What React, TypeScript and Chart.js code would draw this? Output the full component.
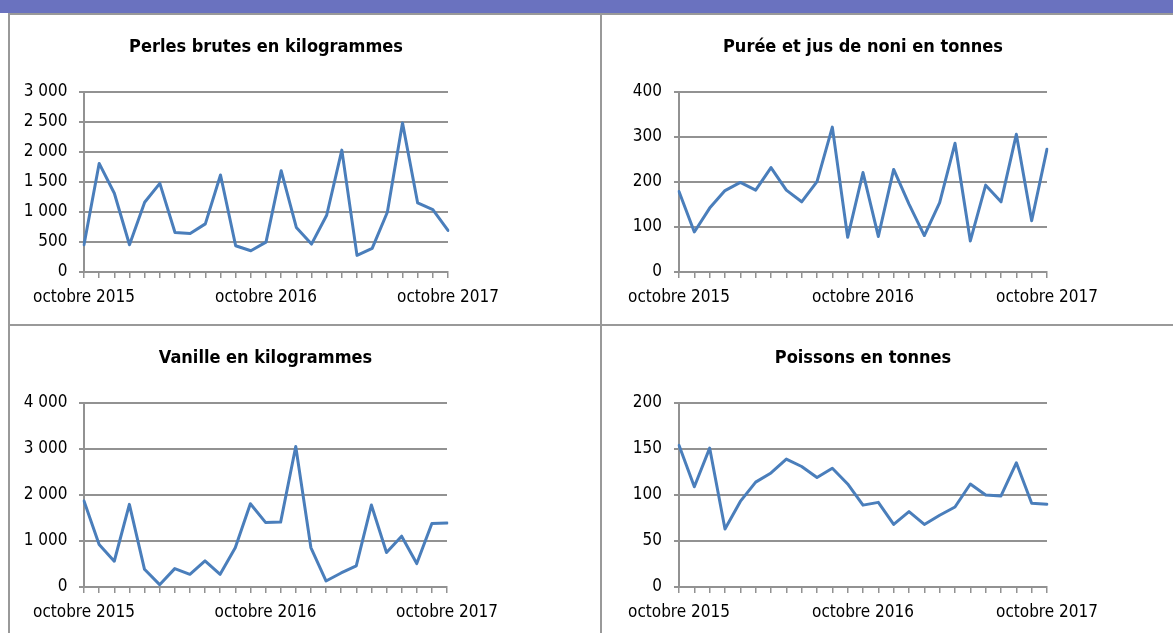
import React, { useEffect, useRef } from 'react';
import { Chart, registerables } from 'chart.js';

Chart.register(...registerables);

const months = [
  'octobre 2015', 'novembre 2015', 'décembre 2015', 'janvier 2016', 'février 2016', 'mars 2016',
  'avril 2016', 'mai 2016', 'juin 2016', 'juillet 2016', 'août 2016', 'septembre 2016',
  'octobre 2016', 'novembre 2016', 'décembre 2016', 'janvier 2017', 'février 2017', 'mars 2017',
  'avril 2017', 'mai 2017', 'juin 2017', 'juillet 2017', 'août 2017', 'septembre 2017', 'octobre 2017',
];

const perles = [454, 1810, 1312, 454, 1162, 1478, 659, 642, 802, 1616, 437, 354, 498, 1688, 742, 465, 946, 2031, 277, 393, 996, 2485, 1151, 1040, 692];
const noni = [179, 89, 142, 181, 199, 182, 232, 182, 156, 201, 322, 77, 221, 79, 228, 151, 81, 154, 286, 69, 193, 156, 306, 114, 273];
const vanille = [1869, 924, 560, 1796, 385, 51, 400, 276, 567, 276, 851, 1811, 1404, 1411, 3055, 858, 131, 305, 458, 1782, 749, 1105, 509, 1382, 1389];
const poissons = [154, 109, 151, 63, 93, 114, 124, 139, 131, 119, 129, 112, 89, 92, 68, 82, 68, 78, 87, 112, 100, 99, 135, 91, 90];

const titles = [
  'Perles brutes en kilogrammes',
  'Purée et jus de noni en tonnes',
  'Vanille en kilogrammes',
  'Poissons en tonnes',
];
const yMax = [3000, 400, 4000, 200];
const yStep = [500, 100, 1000, 50];

const FONT = "'DejaVu Sans Condensed', 'DejaVu Sans', sans-serif";
const LINE = '#4A7EBB';
const GRID = '#929292';
const AXIS_W = 74;
const X_H = 45;

const fmt = (v: number) => String(v).replace(/\B(?=(\d{3})+(?!\d))/g, ' ');

type PanelProps = {
  title: string;
  values: number[];
  max: number;
  step: number;
  plotLeft: number;
  plotRight: number;
  plotTop: number;
  plotBottom: number;
  titleY: number;
  yPad: number;
  xPad: number;
};

function Panel(p: PanelProps) {
  const ref = useRef<HTMLCanvasElement>(null);
  const canvasLeft = p.plotLeft - AXIS_W;
  const width = p.plotRight - p.plotLeft + 2 * AXIS_W;
  const canvasTop = p.titleY - 32;
  const topRel = p.plotTop - canvasTop;
  const height = p.plotBottom - canvasTop + X_H;
  const titleSize = 18;
  const titleLH = titleSize * 1.2;
  const padTop = 32 - titleLH / 2;
  const padBottom = topRel - padTop - titleLH;

  useEffect(() => {
    if (!ref.current) return;
    const chart = new Chart(ref.current, {
      type: 'line',
      data: {
        labels: months,
        datasets: [
          {
            data: p.values,
            borderColor: LINE,
            borderWidth: 3,
            pointRadius: 0,
            tension: 0,
            fill: false,
            borderJoinStyle: 'round',
            borderCapStyle: 'round',
          },
        ],
      },
      options: {
        animation: false,
        responsive: false,
        maintainAspectRatio: false,
        layout: { padding: 0 },
        plugins: {
          legend: { display: false },
          tooltip: { enabled: false },
          title: {
            display: true,
            text: p.title,
            color: '#000',
            font: { family: FONT, size: titleSize, weight: 'bold', lineHeight: 1.2 },
            padding: { top: padTop, bottom: padBottom },
          },
        },
        scales: {
          x: {
            grid: { drawOnChartArea: false, drawTicks: true, tickLength: 6, color: GRID, lineWidth: 1.5 },
            border: { display: true, color: GRID, width: 2 },
            ticks: {
              autoSkip: false,
              maxRotation: 0,
              minRotation: 0,
              padding: p.xPad,
              color: '#000',
              font: { family: FONT, size: 17 },
              callback: (_v: any, i: number) => (i % 12 === 0 ? months[i] : ''),
            },
            afterFit: (s: any) => {
              s.height = X_H;
            },
          },
          y: {
            min: 0,
            max: p.max,
            ticks: {
              stepSize: p.step,
              padding: p.yPad,
              color: '#000',
              font: { family: FONT, size: 17 },
              callback: (v: any) => fmt(Number(v)),
            },
            grid: { color: GRID, lineWidth: 2, tickLength: 5, drawTicks: true },
            border: { display: true, color: GRID, width: 2 },
            afterFit: (s: any) => {
              s.width = AXIS_W;
            },
          },
          y2: {
            position: 'right',
            display: true,
            grid: { display: false },
            ticks: { display: false },
            border: { display: false },
            afterFit: (s: any) => {
              s.width = AXIS_W;
            },
          },
        },
      } as any,
    });
    return () => chart.destroy();
  }, []);

  return (
    <canvas
      ref={ref}
      width={width}
      height={height}
      style={{ position: 'absolute', left: canvasLeft, top: canvasTop, width, height }}
    />
  );
}

const BORDER = '#999999';

export default function App() {
  const panels = [
    { plotLeft: 84, plotRight: 448, plotTop: 92, plotBottom: 272, titleY: 47, yPad: 11.5, xPad: 9.5 },
    { plotLeft: 679, plotRight: 1047, plotTop: 92, plotBottom: 272, titleY: 47, yPad: 12, xPad: 9.5 },
    { plotLeft: 84, plotRight: 447, plotTop: 403, plotBottom: 587, titleY: 358, yPad: 11.5, xPad: 9 },
    { plotLeft: 679, plotRight: 1047, plotTop: 403, plotBottom: 587, titleY: 358, yPad: 12, xPad: 9 },
  ];
  const data = [perles, noni, vanille, poissons];
  return (
    <div
      style={{
        position: 'absolute',
        left: 0,
        top: 0,
        width: 1173,
        height: 633,
        background: '#fff',
        overflow: 'hidden',
      }}
    >
      <div style={{ position: 'absolute', left: 0, top: 0, width: 1173, height: 13, background: '#6A72BF' }} />
      <div style={{ position: 'absolute', left: 8, top: 13, width: 1165, height: 2, background: BORDER }} />
      <div style={{ position: 'absolute', left: 8, top: 13, width: 2, height: 620, background: BORDER }} />
      <div style={{ position: 'absolute', left: 600, top: 13, width: 2, height: 620, background: BORDER }} />
      <div style={{ position: 'absolute', left: 8, top: 324, width: 1165, height: 2, background: BORDER }} />
      {panels.map((g, i) => (
        <Panel key={i} title={titles[i]} values={data[i]} max={yMax[i]} step={yStep[i]} {...g} />
      ))}
    </div>
  );
}
